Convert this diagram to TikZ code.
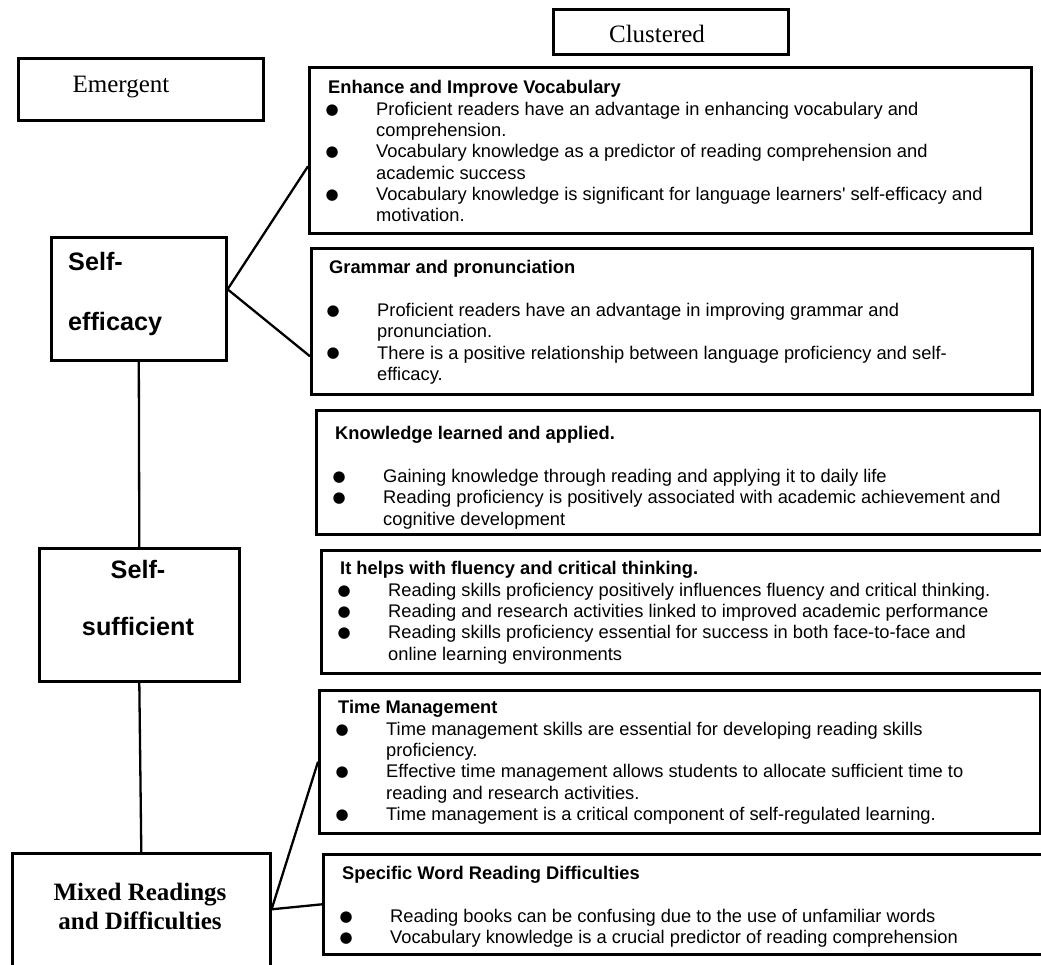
\documentclass[tikz,border=0pt]{standalone}
\usepackage{fontspec}
\setmainfont{Liberation Sans}
\newfontfamily\timesfont{Liberation Serif}
\newfontfamily\symfont{DejaVu Sans}
\usetikzlibrary{positioning}
\newcommand\itm{\makebox[48pt][l]{\hspace*{-2.5pt}\raisebox{1.2pt}{\symfont\fontsize{15}{0}\selectfont ●}}}
\newcommand\cnt{\hspace*{48pt}}
\begin{document}
\begin{tikzpicture}[x=1pt, y=-1pt,
	frame/.style={draw, line width=2.6pt, inner sep=0pt, anchor=north west},
	link/.style={line width=2.3pt},
	body/.style={inner sep=0pt, anchor=north west, align=left, font=\fontsize{18.3}{21.3}\selectfont},
	head/.style={inner sep=0pt, font=\timesfont\fontsize{25}{29}\selectfont}]
	\useasboundingbox (0,0) rectangle (1041,965);

	\node[frame, minimum width=245pt, minimum height=62pt] (emg) at (17,57) {};
	\node[head, anchor=base] (emgtxt) at (121,93) {Emergent};
	\node[frame, minimum width=235pt, minimum height=45pt] (clu) at (552,8) {};
	\node[head, anchor=base] (clutxt) at (657,43) {Clustered};

	\node[frame, minimum width=175pt, minimum height=123pt] (sef) at (50,236) {};
	\node[inner sep=0pt, anchor=north west, align=left, font=\bfseries\fontsize{25.2}{60}\selectfont] (seftxt) at (68,252.5) {Self-\\efficacy};
	\node[frame, minimum width=200pt, minimum height=133pt] (ses) at (38,547) {};
	\node[inner sep=0pt, anchor=north, align=center, font=\bfseries\fontsize{25.2}{57}\selectfont] (sestxt) at (138,560.5) {Self-\\sufficient};
	\node[frame, minimum width=258pt, minimum height=116pt] (mix) at (11,852) {};
	\node[head, anchor=north, align=center, font=\timesfont\bfseries\fontsize{25}{29}\selectfont] (mixtxt) at (140,883) {Mixed Readings\\and Difficulties};

	\node[frame, minimum width=722pt, minimum height=166pt] (enh) at (308,66) {};
	\node[body] (enhtxt) at (328,80.5) {\textbf{Enhance and Improve Vocabulary}\\
		\itm Proficient readers have an advantage in enhancing vocabulary and\\
		\cnt comprehension.\\
		\itm Vocabulary knowledge as a predictor of reading comprehension and\\
		\cnt academic success\\
		\itm Vocabulary knowledge is significant for language learners\textquotesingle\ self-efficacy and\\
		\cnt motivation.};

	\node[frame, minimum width=721pt, minimum height=146pt] (gra) at (310,247) {};
	\node[body] (gratxt) at (329,260.5) {\textbf{Grammar and pronunciation}\\[21.3pt]
		\itm Proficient readers have an advantage in improving grammar and\\
		\cnt pronunciation.\\
		\itm There is a positive relationship between language proficiency and self-\\
		\cnt efficacy.};

	\node[frame, minimum width=724pt, minimum height=124pt] (kno) at (315,409) {};
	\node[body] (knotxt) at (335,426.5) {\textbf{Knowledge learned and applied.}\\[21.3pt]
		\itm Gaining knowledge through reading and applying it to daily life\\
		\itm Reading proficiency is positively associated with academic achievement and\\
		\cnt cognitive development};

	\node[frame, minimum width=722pt, minimum height=123pt] (flu) at (320,549) {};
	\node[body] (flutxt) at (340,561.5) {\textbf{It helps with fluency and critical thinking.}\\
		\itm Reading skills proficiency positively influences fluency and critical thinking.\\
		\itm Reading and research activities linked to improved academic performance\\
		\itm Reading skills proficiency essential for success in both face-to-face and\\
		\cnt online learning environments};

	\node[frame, minimum width=721pt, minimum height=143pt] (tim) at (318,689) {};
	\node[body] (timtxt) at (338,700.5) {\textbf{Time Management}\\
		\itm Time management skills are essential for developing reading skills\\
		\cnt proficiency.\\
		\itm Effective time management allows students to allocate sufficient time to\\
		\cnt reading and research activities.\\
		\itm Time management is a critical component of self-regulated learning.};

	\node[frame, minimum width=720pt, minimum height=100pt] (spe) at (322,853) {};
	\node[body] (spetxt) at (342,866.5) {\textbf{Specific Word Reading Difficulties}\\[21.3pt]
		\itm Reading books can be confusing due to the use of unfamiliar words\\
		\itm Vocabulary knowledge is a crucial predictor of reading comprehension};

	\draw[link] ([yshift=9.5pt]sef.east) -- ([yshift=-16pt]enh.west);
	\draw[link] ([yshift=9.5pt]sef.east) -- ([yshift=-35pt]gra.west);
	\draw[link] (sef.south) -- (ses.north);
	\draw[link] (ses.south) -- (mix.north);
	\draw[link] ([yshift=2pt]mix.east) -- (tim.west);
	\draw[link] ([yshift=2pt]mix.east) -- (spe.west);
\end{tikzpicture}
\end{document}
